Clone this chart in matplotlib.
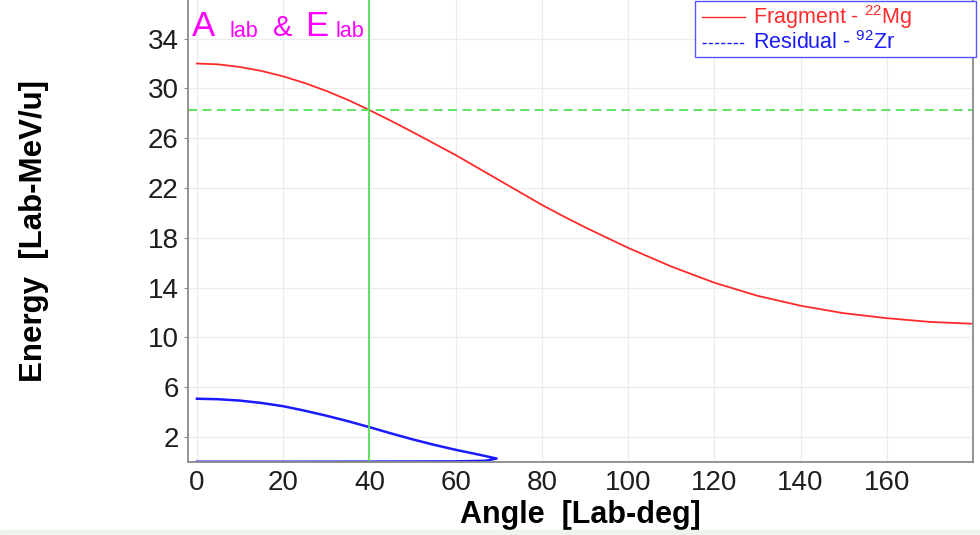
import numpy as np
import matplotlib.pyplot as plt
from matplotlib.lines import Line2D
from matplotlib.patches import Rectangle

plt.rcParams['font.family'] = ['Liberation Sans', 'DejaVu Sans']
plt.rcParams['mathtext.fontset'] = 'custom'
plt.rcParams['mathtext.rm'] = 'Liberation Sans'
plt.rcParams['mathtext.it'] = 'Liberation Sans'

# fragment 22Mg, lab energy vs lab angle
frag_ang = [0, 5, 10, 15, 20, 25, 30, 35, 40, 45, 50, 55, 60, 65, 70, 75, 80, 85, 90,
            100, 110, 120, 130, 140, 150, 160, 170, 180]
frag_e = [32.0, 31.93, 31.72, 31.4, 30.97, 30.43, 29.8, 29.08, 28.26, 27.4, 26.5, 25.58,
          24.65, 23.65, 22.65, 21.65, 20.65, 19.73, 18.85, 17.2, 15.7, 14.4, 13.35,
          12.55, 11.95, 11.55, 11.25, 11.1]

# residual 92Zr, upper branch then lower branch back to 0 deg
res_ang = [0, 5, 10, 15, 20, 25, 30, 35, 40, 45, 50, 55, 60, 65, 69.5, 67, 60, 40, 20, 0]
res_e = [5.08, 5.04, 4.93, 4.74, 4.48, 4.12, 3.72, 3.28, 2.8, 2.3, 1.82, 1.38, 0.98,
         0.62, 0.28, 0.1, 0.05, 0.03, 0.02, 0.02]

sel_ang = 40
sel_e = 28.26

xticks = [0, 20, 40, 60, 80, 100, 120, 140, 160]
yticks = [2, 6, 10, 14, 18, 22, 26, 30, 34]

red = '#ff2a2a'
blue = '#1a1aff'
green = '#55e055'

fig = plt.figure(figsize=(9.8, 5.35), dpi=100)
ax = fig.add_axes([188.3 / 980, 73 / 535, (973 - 188.3) / 980, 1 - 73 / 535])

ax.plot(frag_ang, frag_e, color=red, lw=1.3)
ax.plot(res_ang, res_e, color=blue, lw=1.8)
ax.axvline(sel_ang, color=green, lw=1.3)
ax.axhline(sel_e, color=green, lw=1.3, ls=(0, (5, 3)))

ax.set_xlim(-2, 180)
ax.set_ylim(0, 37.1)
ax.set_xticks(xticks)
ax.set_yticks(yticks)
ax.grid(True, color='#ececec', lw=0.9)
ax.set_axisbelow(True)
for s in ['left', 'bottom', 'right']:
    ax.spines[s].set_color('#8a8a8a')
    ax.spines[s].set_linewidth(1.3)
ax.spines['top'].set_visible(False)
ax.tick_params(axis='y', direction='out', length=3, color='#8a8a8a', labelsize=20,
               labelcolor='#1e1e1e', pad=4)
ax.tick_params(axis='x', length=0, labelsize=20, labelcolor='#1e1e1e', pad=6)

ax.set_xlabel('Angle  [Lab-deg]', fontsize=22, fontweight='bold', labelpad=3)
ax.set_ylabel('Energy  [Lab-MeV/u]', fontsize=22.5, fontweight='bold', labelpad=71)

# magenta heading
mag = '#ff00ff'
fig.text(192 / 980, 1 - 36 / 535, 'A', color=mag, fontsize=25)
fig.text(229 / 980, 1 - 37 / 535, 'lab', color=mag, fontsize=15.5)
fig.text(273 / 980, 1 - 36 / 535, '&', color=mag, fontsize=21)
fig.text(305 / 980, 1 - 36 / 535, 'E', color=mag, fontsize=25)
fig.text(335 / 980, 1 - 37 / 535, 'lab', color=mag, fontsize=15.5)

# legend box drawn by hand in figure pixels
def fx(px):
    return px / 980

def fy(py):
    return 1 - py / 535

fig.patches.append(Rectangle((fx(695), fy(57)), fx(976) - fx(695), fy(1) - fy(57),
                             transform=fig.transFigure, facecolor='white',
                             edgecolor='#5555ff', lw=1.0, zorder=5))
fig.lines.append(Line2D([fx(702), fx(745)], [fy(17), fy(17)], color=red, lw=1.0,
                        transform=fig.transFigure, zorder=6))
fig.lines.append(Line2D([fx(702), fx(745)], [fy(43), fy(43)], color=blue, lw=1.0,
                        ls=(0, (3, 1.5)), transform=fig.transFigure, zorder=6))
fig.text(fx(753), fy(17), r'Fragment - $^{22}$Mg', color=red, fontsize=15.5,
         va='center', zorder=7)
fig.text(fx(753), fy(43), r'Residual - $^{92}$Zr', color=blue, fontsize=15.5,
         va='center', zorder=7)

fig.patches.append(Rectangle((0, 0), 1, 5 / 535, transform=fig.transFigure,
                             color='#eef3ee', zorder=0))

plt.savefig('out.png', dpi=100)
